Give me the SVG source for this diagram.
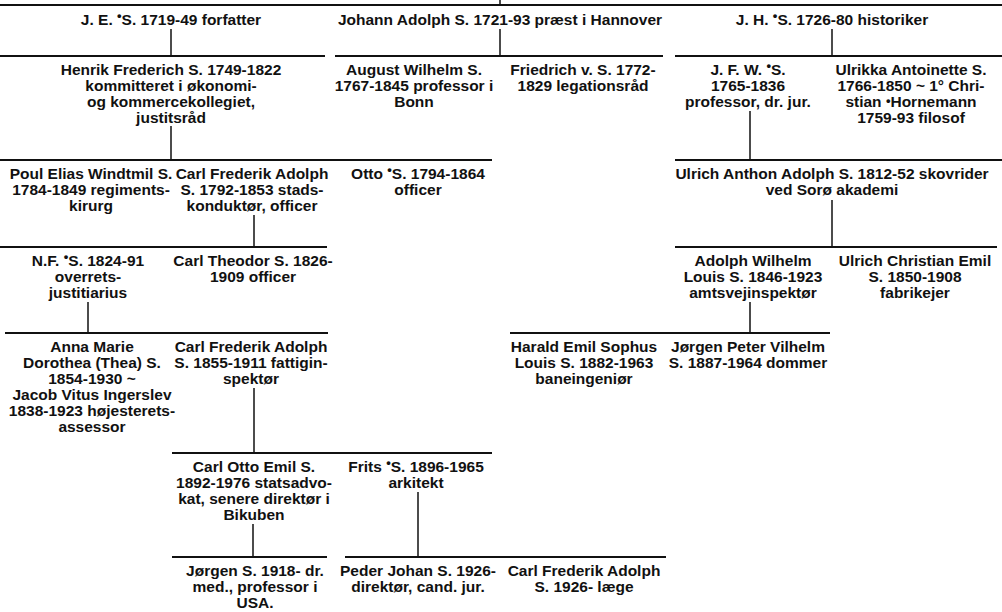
<svg xmlns="http://www.w3.org/2000/svg" width="1002" height="612" viewBox="0 0 1002 612">
<style>
.t{font-family:"Liberation Sans",Arial,sans-serif;font-weight:bold;font-size:15.5px;text-anchor:middle;fill:#111}
.h{stroke:#111;stroke-width:2;fill:none}
.v{stroke:#111;stroke-width:1.5;fill:none}
.d{font-size:13px}
</style>
<rect width="1002" height="612" fill="#fff"/>
<g id="connectors">
<line class="h" x1="0" y1="5" x2="1002" y2="5"/>
<line class="v" x1="500" y1="0" x2="500" y2="5"/>
<line class="v" x1="171" y1="29" x2="171" y2="56"/>
<line class="v" x1="500" y1="29" x2="500" y2="56"/>
<line class="v" x1="832" y1="29" x2="832" y2="56"/>
<line class="h" x1="0" y1="56" x2="325" y2="56"/>
<line class="h" x1="335" y1="56" x2="663" y2="56"/>
<line class="h" x1="675" y1="56" x2="1002" y2="56"/>
<line class="v" x1="171" y1="126" x2="171" y2="160"/>
<line class="v" x1="750" y1="111" x2="750" y2="160"/>
<line class="h" x1="0" y1="160" x2="492" y2="160"/>
<line class="h" x1="675" y1="160" x2="1002" y2="160"/>
<line class="v" x1="254" y1="215" x2="254" y2="247"/>
<line class="v" x1="832" y1="200" x2="832" y2="247"/>
<line class="h" x1="0" y1="247" x2="327" y2="247"/>
<line class="h" x1="675" y1="247" x2="997" y2="247"/>
<line class="v" x1="88" y1="302" x2="88" y2="333"/>
<line class="v" x1="750" y1="302" x2="750" y2="333"/>
<line class="h" x1="5" y1="333" x2="328" y2="333"/>
<line class="h" x1="510" y1="333" x2="830" y2="333"/>
<line class="v" x1="254" y1="388" x2="254" y2="453"/>
<line class="h" x1="172" y1="453" x2="492" y2="453"/>
<line class="v" x1="253" y1="524" x2="253" y2="557"/>
<line class="v" x1="418" y1="492" x2="418" y2="557"/>
<line class="h" x1="172" y1="557" x2="327" y2="557"/>
<line class="h" x1="345" y1="557" x2="666" y2="557"/>
</g>
<g id="n-je"><text class="t" x="171" y="25">J. E. <tspan class="d" baseline-shift="35%">•</tspan>S. 1719-49 forfatter</text></g>
<g id="n-johann"><text class="t" x="500" y="25">Johann Adolph S. 1721-93 præst i Hannover</text></g>
<g id="n-jh"><text class="t" x="832" y="25">J. H. <tspan class="d" baseline-shift="35%">•</tspan>S. 1726-80 historiker</text></g>
<g id="n-henrik"><text class="t" x="171" y="75"><tspan x="171">Henrik Frederich S. 1749-1822</tspan><tspan x="171" dy="16">kommitteret i økonomi-</tspan><tspan x="171" dy="16">og kommercekollegiet,</tspan><tspan x="171" dy="16">justitsråd</tspan></text></g>
<g id="n-august"><text class="t" x="414" y="75"><tspan x="414">August Wilhelm S.</tspan><tspan x="414" dy="16">1767-1845 professor i</tspan><tspan x="414" dy="16">Bonn</tspan></text></g>
<g id="n-friedrich"><text class="t" x="583" y="75"><tspan x="583">Friedrich v. S. 1772-</tspan><tspan x="583" dy="16">1829 legationsråd</tspan></text></g>
<g id="n-jfw"><text class="t" x="748" y="75">J. F. W. <tspan class="d" baseline-shift="35%">•</tspan>S.</text><text class="t" x="748" y="91">1765-1836</text><text class="t" x="748" y="107">professor, dr. jur.</text></g>
<g id="n-ulrikka"><text class="t" x="911" y="75">Ulrikka Antoinette S.</text><text class="t" x="911" y="91">1766-1850 ~ 1° Chri-</text><text class="t" x="911" y="107">stian <tspan class="d" baseline-shift="12%">•</tspan>Hornemann</text><text class="t" x="911" y="123">1759-93 filosof</text></g>
<g id="n-poul"><text class="t" x="91" y="179"><tspan x="91">Poul Elias Windtmil S.</tspan><tspan x="91" dy="16">1784-1849 regiments-</tspan><tspan x="91" dy="16">kirurg</tspan></text></g>
<g id="n-carl1792"><text class="t" x="252" y="179"><tspan x="252">Carl Frederik Adolph</tspan><tspan x="252" dy="16">S. 1792-1853 stads-</tspan><tspan x="252" dy="16">konduktør, officer</tspan></text></g>
<g id="n-otto"><text class="t" x="418" y="179">Otto <tspan class="d" baseline-shift="35%">•</tspan>S. 1794-1864</text><text class="t" x="418" y="195">officer</text></g>
<g id="n-ulrich-anthon"><text class="t" x="832" y="179"><tspan x="832">Ulrich Anthon Adolph S. 1812-52 skovrider</tspan><tspan x="832" dy="16">ved Sorø akademi</tspan></text></g>
<g id="n-nf"><text class="t" x="88" y="266">N.F. <tspan class="d" baseline-shift="35%">•</tspan>S. 1824-91</text><text class="t" x="88" y="282">overrets-</text><text class="t" x="88" y="298">justitiarius</text></g>
<g id="n-carl-theodor"><text class="t" x="253" y="266"><tspan x="253">Carl Theodor S. 1826-</tspan><tspan x="253" dy="16">1909 officer</tspan></text></g>
<g id="n-adolph-wilhelm"><text class="t" x="753" y="266"><tspan x="753">Adolph Wilhelm</tspan><tspan x="753" dy="16">Louis S. 1846-1923</tspan><tspan x="753" dy="16">amtsvejinspektør</tspan></text></g>
<g id="n-ulrich-christian"><text class="t" x="915" y="266"><tspan x="915">Ulrich Christian Emil</tspan><tspan x="915" dy="16">S. 1850-1908</tspan><tspan x="915" dy="16">fabrikejer</tspan></text></g>
<g id="n-anna"><text class="t" x="92" y="352"><tspan x="92">Anna Marie</tspan><tspan x="92" dy="16">Dorothea (Thea) S.</tspan><tspan x="92" dy="16">1854-1930 ~</tspan><tspan x="92" dy="16">Jacob Vitus Ingerslev</tspan><tspan x="92" dy="16">1838-1923 højesterets-</tspan><tspan x="92" dy="16">assessor</tspan></text></g>
<g id="n-carl1855"><text class="t" x="251" y="352"><tspan x="251">Carl Frederik Adolph</tspan><tspan x="251" dy="16">S. 1855-1911 fattigin-</tspan><tspan x="251" dy="16">spektør</tspan></text></g>
<g id="n-harald"><text class="t" x="584" y="352"><tspan x="584">Harald Emil Sophus</tspan><tspan x="584" dy="16">Louis S. 1882-1963</tspan><tspan x="584" dy="16">baneingeniør</tspan></text></g>
<g id="n-jorgen-peter"><text class="t" x="748" y="352"><tspan x="748">Jørgen Peter Vilhelm</tspan><tspan x="748" dy="16">S. 1887-1964 dommer</tspan></text></g>
<g id="n-carl-otto"><text class="t" x="254" y="472"><tspan x="254">Carl Otto Emil S.</tspan><tspan x="254" dy="16">1892-1976 statsadvo-</tspan><tspan x="254" dy="16">kat, senere direktør i</tspan><tspan x="254" dy="16">Bikuben</tspan></text></g>
<g id="n-frits"><text class="t" x="416" y="472">Frits <tspan class="d" baseline-shift="35%">•</tspan>S. 1896-1965</text><text class="t" x="416" y="488">arkitekt</text></g>
<g id="n-jorgen"><text class="t" x="255" y="576"><tspan x="255">Jørgen S. 1918- dr.</tspan><tspan x="255" dy="16">med., professor i</tspan><tspan x="255" dy="16">USA.</tspan></text></g>
<g id="n-peder"><text class="t" x="418" y="576"><tspan x="418">Peder Johan S. 1926-</tspan><tspan x="418" dy="16">direktør, cand. jur.</tspan></text></g>
<g id="n-carl1926"><text class="t" x="584" y="576"><tspan x="584">Carl Frederik Adolph</tspan><tspan x="584" dy="16">S. 1926- læge</tspan></text></g>
</svg>
